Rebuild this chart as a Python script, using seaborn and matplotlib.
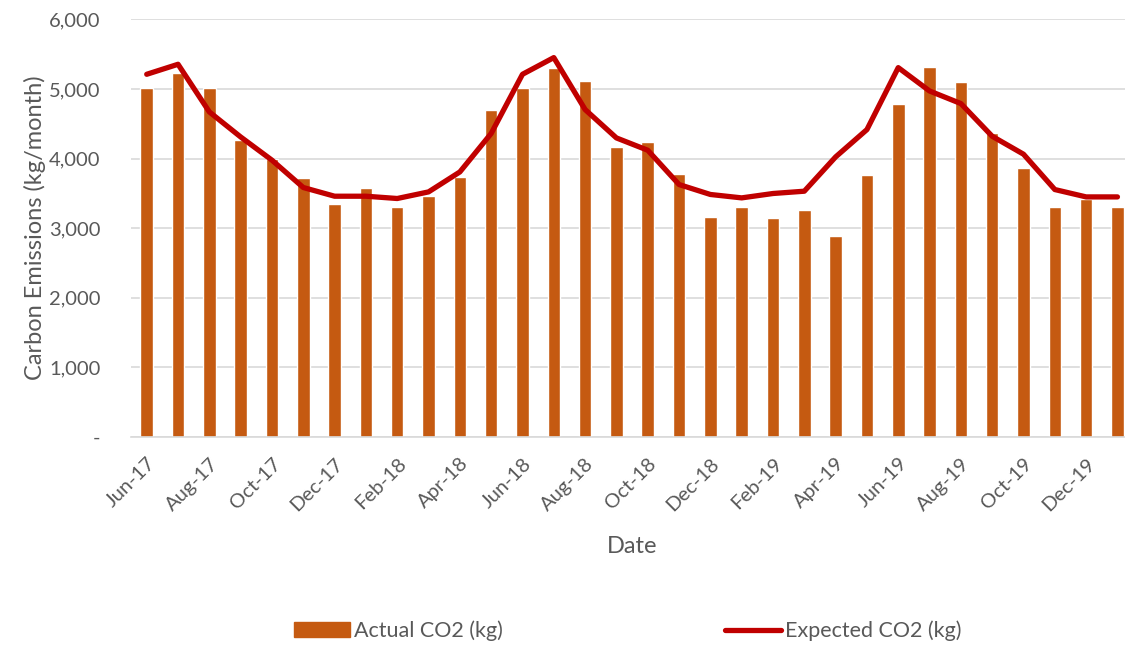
import numpy as np
import pandas as pd
import matplotlib
matplotlib.use("Agg")
import matplotlib.pyplot as plt
import seaborn as sns
from matplotlib.patches import Patch
from matplotlib.lines import Line2D

# monthly data, Jun-17 to Jan-20
months = ["Jun-17", "Jul-17", "Aug-17", "Sep-17", "Oct-17", "Nov-17", "Dec-17",
          "Jan-18", "Feb-18", "Mar-18", "Apr-18", "May-18", "Jun-18", "Jul-18",
          "Aug-18", "Sep-18", "Oct-18", "Nov-18", "Dec-18", "Jan-19", "Feb-19",
          "Mar-19", "Apr-19", "May-19", "Jun-19", "Jul-19", "Aug-19", "Sep-19",
          "Oct-19", "Nov-19", "Dec-19", "Jan-20"]
actual = [5020, 5230, 5020, 4273, 4000, 3713, 3339, 3569, 3310, 3463, 3736,
          4694, 5014, 5307, 5111, 4162, 4239, 3779, 3157, 3296, 3147, 3257,
          2884, 3760, 4780, 5322, 5101, 4368, 3865, 3300, 3425, 3296]
expected = [5211, 5355, 4670, 4310, 3976, 3583, 3458, 3458, 3425, 3520, 3807,
            4360, 5211, 5451, 4704, 4296, 4119, 3626, 3483, 3434, 3497, 3530,
            4023, 4416, 5307, 4971, 4790, 4320, 4062, 3554, 3448, 3448]

df = pd.DataFrame({"Date": months, "Actual": actual, "Expected": expected})

bar_color = "#C55A11"
line_color = "#C00000"
text_color = "#595959"
grid_color = "#D9D9D9"

sns.set_style("white")
plt.rcParams["font.family"] = ["Lato", "DejaVu Sans"]

fig = plt.figure(figsize=(11.25, 6.47), dpi=100)
ax = fig.add_axes([0.1165, 0.325, 0.8907, 0.645])

sns.barplot(data=df, x="Date", y="Actual", color=bar_color, width=0.4,
            saturation=1, ax=ax, zorder=2)
sns.lineplot(x=np.arange(len(months)), y=df["Expected"], color=line_color,
             linewidth=3.8, ax=ax, zorder=3)

ax.set_xlim(-0.5, len(months) - 0.5)
ax.set_ylim(0, 6000)
ax.set_yticks(range(0, 6001, 1000))
ax.set_yticklabels(["-"] + [f"{v:,}" for v in range(1000, 6001, 1000)])
ax.yaxis.grid(True, color=grid_color, linewidth=1.2, zorder=0)
ax.set_axisbelow(True)

ax.set_xticks(range(0, len(months), 2))
ax.set_xticklabels(months[::2], rotation=45, ha="right",
                   rotation_mode="anchor")

ax.tick_params(axis="both", length=0, labelsize=14.5, colors=text_color)
ax.tick_params(axis="x", pad=13)
ax.tick_params(axis="y", pad=22)

for side in ["left", "right", "top"]:
    ax.spines[side].set_visible(False)
ax.spines["bottom"].set_color(grid_color)
ax.spines["bottom"].set_linewidth(1.2)

ax.set_xlabel("Date", fontsize=17, color=text_color, labelpad=16)
ax.set_ylabel("Carbon Emissions (kg/month)", fontsize=17, color=text_color,
              labelpad=2)

handles = [Patch(facecolor=bar_color, edgecolor=bar_color),
           Line2D([0], [0], color=line_color, linewidth=3.8)]
fig.legend(handles, ["Actual CO2 (kg)", "Expected CO2 (kg)"], ncol=2,
           loc="center", bbox_to_anchor=(0.558, 0.025), frameon=False,
           fontsize=15.5, labelcolor=text_color, columnspacing=10.3,
           handlelength=2.6, handletextpad=0.2)

fig.savefig("out.png", dpi=100)
